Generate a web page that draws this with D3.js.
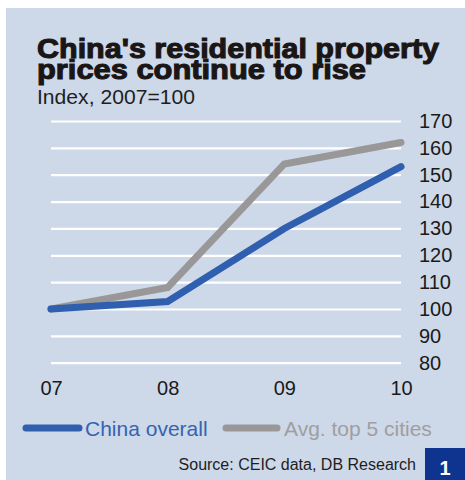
<!DOCTYPE html>
<html>
<head>
<meta charset="utf-8">
<script src="https://cdn.jsdelivr.net/npm/d3@7"></script>
<style>
  html, body { margin: 0; padding: 0; background: #ffffff; }
  svg { display: block; font-family: "Liberation Sans", Arial, sans-serif; }
</style>
</head>
<body>
<svg id="chart" width="465" height="480"></svg>
<script>
// Chart data
const years = ["07", "08", "09", "10"];
const chinaOverall = [100, 102.8, 130, 153];
const topFiveCities = [100, 108, 154, 162];
const yTicks = [80, 90, 100, 110, 120, 130, 140, 150, 160, 170];
const seriesNames = ["China overall", "Avg. top 5 cities"];
const titleLines = ["China's residential property", "prices continue to rise"];

const svg = d3.select("#chart");

// Panel background
svg.append("rect")
  .attr("x", 6).attr("y", 8)
  .attr("width", 459).attr("height", 472)
  .attr("fill", "#cdd8e9");

// Title (two lines in one text block) and subtitle
const titleColor = "#1b1616";
const title = svg.append("text")
  .attr("font-size", 28).attr("font-weight", "bold")
  .attr("fill", titleColor).attr("stroke", titleColor).attr("stroke-width", 1.1);
title.append("tspan")
  .attr("x", 37).attr("y", 57.5)
  .attr("textLength", 402).attr("lengthAdjust", "spacingAndGlyphs")
  .text(titleLines[0]);
title.append("tspan")
  .attr("x", 37).attr("y", 79.3)
  .attr("textLength", 329).attr("lengthAdjust", "spacingAndGlyphs")
  .text(titleLines[1]);

svg.append("text")
  .attr("x", 37).attr("y", 104)
  .attr("font-size", 20.5)
  .attr("fill", "#1e1e1e")
  .attr("textLength", 158).attr("lengthAdjust", "spacingAndGlyphs")
  .text("Index, 2007=100");

// Scales
const x = d3.scalePoint().domain(years).range([51, 401]);
const y = d3.scaleLinear().domain([80, 170]).range([362.7, 121]);

// Horizontal gridlines with value labels on the right
const yAxis = svg.append("g")
  .attr("transform", "translate(401,0)")
  .call(d3.axisRight(y).tickValues(yTicks).tickSize(-350).tickPadding(18).tickFormat(d3.format("d")));
yAxis.select(".domain").remove();
yAxis.selectAll(".tick line").attr("stroke", "#ffffff").attr("stroke-width", 2.2);
yAxis.selectAll(".tick text")
  .attr("font-size", 20).attr("fill", "#1a1a1a")
  .attr("font-family", "Liberation Sans, Arial, sans-serif");

// Year labels
const xAxis = svg.append("g")
  .attr("transform", "translate(0,362.7)")
  .call(d3.axisBottom(x).tickSize(0).tickPadding(18));
xAxis.select(".domain").remove();
xAxis.selectAll(".tick text")
  .attr("font-size", 20).attr("fill", "#1a1a1a")
  .attr("font-family", "Liberation Sans, Arial, sans-serif");

// Series lines
const line = d3.line()
  .x((d, i) => x(years[i]))
  .y(d => y(d));

const grey = "#999797";
const blue = "#2f5fae";

svg.append("path")
  .datum(topFiveCities)
  .attr("d", line)
  .attr("fill", "none")
  .attr("stroke", grey).attr("stroke-width", 7)
  .attr("stroke-linecap", "round").attr("stroke-linejoin", "miter");

svg.append("path")
  .datum(chinaOverall)
  .attr("d", line)
  .attr("fill", "none")
  .attr("stroke", blue).attr("stroke-width", 7)
  .attr("stroke-linecap", "round").attr("stroke-linejoin", "miter");

// Legend
const legend = [
  { name: seriesNames[0], color: blue, text: "#3464b0", x0: 26, x1: 79, tx: 85 },
  { name: seriesNames[1], color: grey, text: "#a09e9e", x0: 226, x1: 277, tx: 284 }
];
const lg = svg.append("g");
legend.forEach(l => {
  lg.append("line")
    .attr("x1", l.x0).attr("x2", l.x1).attr("y1", 428).attr("y2", 428)
    .attr("stroke", l.color).attr("stroke-width", 7).attr("stroke-linecap", "round");
  lg.append("text")
    .attr("x", l.tx).attr("y", 436)
    .attr("font-size", 21).attr("fill", l.text)
    .text(l.name);
});

// Source note and chart number
svg.append("text")
  .attr("x", 416).attr("y", 469.5)
  .attr("text-anchor", "end")
  .attr("font-size", 16).attr("fill", "#1e1e1e")
  .text("Source: CEIC data, DB Research");

svg.append("rect")
  .attr("x", 425).attr("y", 448)
  .attr("width", 40).attr("height", 32)
  .attr("fill", "#0f3490");
svg.append("text")
  .attr("x", 445).attr("y", 475)
  .attr("text-anchor", "middle")
  .attr("font-size", 20).attr("font-weight", "bold")
  .attr("fill", "#ffffff")
  .text("1");
</script>
</body>
</html>
